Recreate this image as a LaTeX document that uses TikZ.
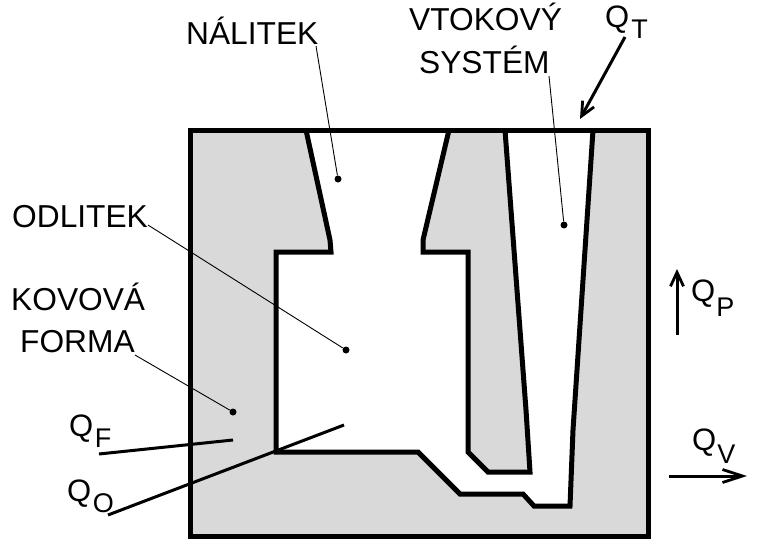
\documentclass[tikz,border=0pt]{standalone}
\usepackage{fontspec}
\setmainfont{Liberation Sans}
\usetikzlibrary{arrows.meta}
\newcommand{\Qsub}[3]{Q\hspace{#2pt}\raisebox{-#3pt}{\fontsize{27}{27}\selectfont #1}}
\tikzset{
  wall/.style={draw=black,line width=5pt,miter limit=10},
  label/.style={inner sep=0pt,anchor=base west,font=\fontsize{31.7}{32}\selectfont,text=black},
  qlabel/.style={inner sep=0pt,anchor=base west,font=\fontsize{31}{31}\selectfont,text=black},
  leader/.style={draw=black,line width=0.9pt},
  flow/.style={draw=black,line width=3pt},
  flowarrow/.style={draw=black,line width=3pt,-{Straight Barb[length=14pt,width=13pt,line width=2.8pt]}},
  flowarrowlong/.style={draw=black,line width=3pt,-{Straight Barb[length=20pt,width=13pt,line width=2.8pt]}},
  dot/.style={circle,fill=black,inner sep=0pt,minimum size=7pt}
}
\definecolor{moldgray}{HTML}{D9D9D9}
\begin{document}
\begin{tikzpicture}[x=1pt,y=-1pt]
\useasboundingbox (0,0) rectangle (768,546);
% mould
\fill[moldgray] (190,130) rectangle (648,536);
% cavity
\fill[white] (306,130) -- (330,240) -- (331,252) -- (276,252) -- (276,452) -- (418,452) -- (460,494) -- (523,494) -- (534,506) -- (570,506) -- (573,430) -- (593,130) -- cycle;
\draw[wall] (306,130) -- (330,240) -- (331,252) -- (276,252) -- (276,452) -- (418,452) -- (460,494) -- (523,494) -- (534,506) -- (570,506) -- (573,430) -- (593,130);
% island between riser and sprue
\fill[moldgray] (449,130) -- (423,240) -- (423,252) -- (468,252) -- (468,452) -- (488,472) -- (530,472) -- (526,410) -- (505,130) -- cycle;
\draw[wall] (449,130) -- (423,240) -- (423,252) -- (468,252) -- (468,452) -- (488,472) -- (530,472) -- (526,410) -- (505,130);
\draw[wall] (190,130) rectangle (648,536);
% labels
\node[label] (nalitek) at (186,44) {NÁLITEK};
\node[label] (vtokovy) at (409,30) {VTOKOVÝ};
\node[label] (system) at (419,73) {SYSTÉM};
\node[label] (odlitek) at (12,227) {ODLITEK};
\node[label] (kovova) at (11,310) {KOVOVÁ};
\node[label] (forma) at (20,352) {FORMA};
\node[qlabel] (qt) at (605,27.5) {\Qsub{T}{2}{10.5}};
\node[qlabel] (qp) at (691,301) {\Qsub{P}{1}{15}};
\node[qlabel] (qv) at (692,450) {\Qsub{V}{1}{13}};
\node[qlabel] (qf) at (69,436.5) {\Qsub{F}{1.5}{10.5}};
\node[qlabel] (qo) at (67,501.5) {\Qsub{O}{1.5}{10.5}};
% leader targets
\node[dot] (dn) at (338,179) {};
\node[dot] (dv) at (564,225) {};
\node[dot] (do) at (346,350) {};
\node[dot] (dk) at (233,412) {};
% free ends
\coordinate (ln) at (316,46);
\coordinate (lv) at (549,76);
\coordinate (lo) at (148,225);
\coordinate (lk) at (135,355);
\coordinate (fa) at (99,454);
\coordinate (fb) at (233,440);
\coordinate (oa) at (108,515);
\coordinate (ob) at (344,425);
\coordinate (ta) at (625,37);
\coordinate (tb) at (580,119);
\coordinate (pa) at (677,335);
\coordinate (pb) at (677,269);
\coordinate (va) at (669,476);
\coordinate (vb) at (747,476);
% leaders
\draw[leader] (ln) -- (dn);
\draw[leader] (lv) -- (dv);
\draw[leader] (lo) -- (do);
\draw[leader] (lk) -- (dk);
% flows
\draw[flow] (fa) -- (fb);
\draw[flow] (oa) -- (ob);
\draw[flowarrow] (ta) -- (tb);
\draw[flowarrow] (pa) -- (pb);
\draw[flowarrowlong] (va) -- (vb);
\end{tikzpicture}
\end{document}
